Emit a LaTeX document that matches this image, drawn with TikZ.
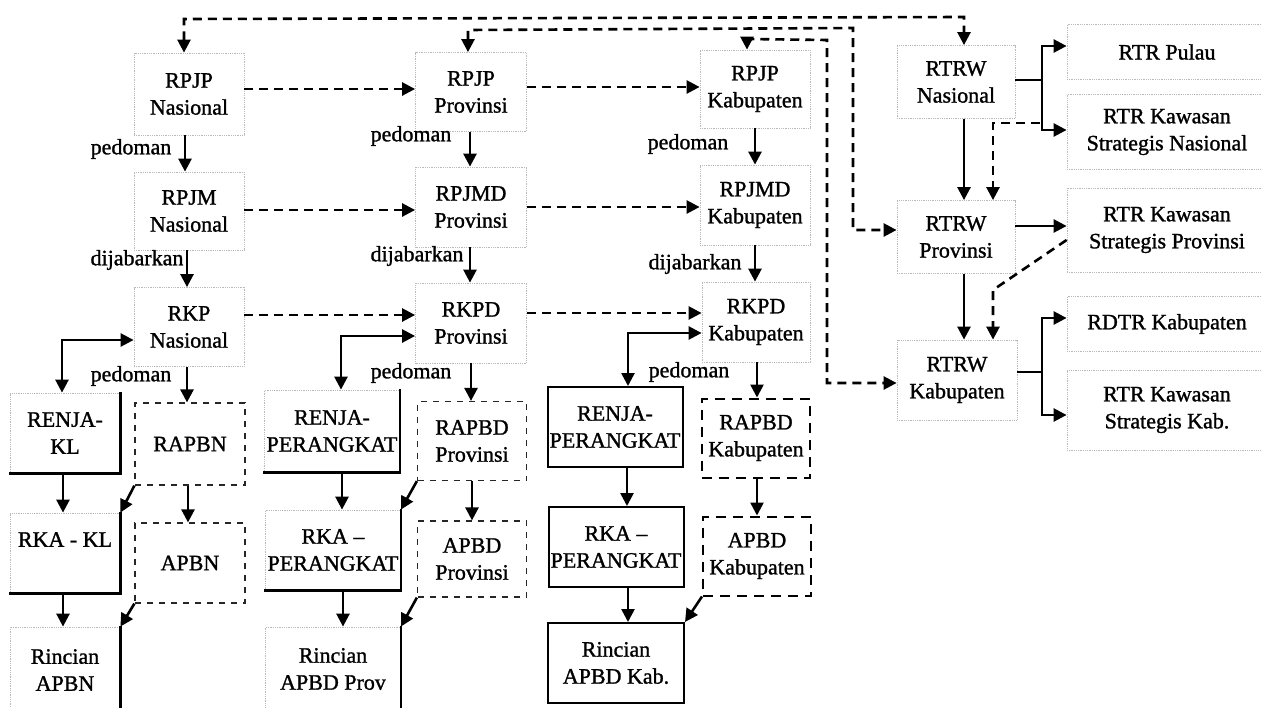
\documentclass[tikz,border=0pt]{standalone}
\usepackage{fontspec}
\setmainfont{Liberation Serif}[FakeBold=1.2]
\usetikzlibrary{arrows.meta,calc}
\begin{document}
\begin{tikzpicture}[x=1pt,y=-1pt,
  every node/.style={font=\fontsize{22}{27}\selectfont, align=center, inner sep=0pt},
  sz/.style 2 args={minimum width=#1pt, minimum height=#2pt},
  gbox/.style={draw=gray!55, densely dotted, line width=0.8pt},
  dbox/.style={draw=black!85, dash pattern=on 6pt off 6pt, line width=1.2pt},
  kdbox/.style={draw=black, dash pattern=on 10pt off 7pt, line width=2pt},
  kbox/.style={draw=black, line width=2pt},
  edgeline/.style={line width=2.2pt, line cap=rect},
  arr/.style={line width=2.6pt, -{Triangle[length=13pt,width=13pt]}},
  dblarr/.style={line width=2.6pt, {Triangle[length=13pt,width=13pt]}-{Triangle[length=13pt,width=13pt]}},
  darr/.style={arr, dash pattern=on 9pt off 6pt},
  ddbl/.style={dblarr, dash pattern=on 9pt off 6pt},
  lbl/.style={}
]
\useasboundingbox (0,0) rectangle (1261,707);
\clip (0,0) rectangle (1261,707);

% ---------- Column 1: Nasional ----------
\node[gbox, sz={110}{82}] (rpjpn) at (189,94) {RPJP\\Nasional};
\node[gbox, sz={110}{78}] (rpjmn) at (189,211) {RPJM\\Nasional};
\node[gbox, sz={110}{79}] (rkpn) at (189,327) {RKP\\Nasional};
\node[gbox, sz={110}{80}] (renjakl) at (65,433) {RENJA-\\KL};
\node[dbox, sz={110}{82}] (rapbn) at (190,444) {RAPBN};
\node[gbox, sz={110}{80}] (rkakl) at (65,553) {RKA - KL\\\mbox{}};
\node[dbox, sz={110}{80}] (apbn) at (190,563) {APBN};
\node[gbox, sz={110}{86}] (rincianapbn) at (65,670) {Rincian\\APBN};

% ---------- Column 2: Provinsi ----------
\node[gbox, sz={111}{79}] (rpjpp) at (471,92) {RPJP\\Provinsi};
\node[gbox, sz={111}{80}] (rpjmdp) at (471,207) {RPJMD\\Provinsi};
\node[gbox, sz={111}{80}] (rkpdp) at (471,323) {RKPD\\Provinsi};
\node[gbox, sz={135}{82}] (renjap) at (332,431) {RENJA-\\PERANGKAT};
\node[dbox, sz={109}{79}] (rapbdp) at (472,441) {RAPBD\\Provinsi};
\node[gbox, sz={135}{80}] (rkap) at (333,550) {RKA --\\PERANGKAT};
\node[dbox, sz={109}{76}] (apbdp) at (472,559) {APBD\\Provinsi};
\node[gbox, sz={135}{84}] (rincianprov) at (333,669) {Rincian\\APBD Prov};

% ---------- Column 3: Kabupaten ----------
\node[gbox, sz={110}{78}] (rpjpk) at (755,89) {RPJP\\Kabupaten};
\node[gbox, sz={110}{80}] (rpjmdk) at (755,205) {RPJMD\\Kabupaten};
\node[gbox, sz={108}{80}] (rkpdk) at (756,322) {RKPD\\Kabupaten};
\node[kbox, sz={135}{80}] (renjak) at (615,427) {RENJA-\\PERANGKAT};
\node[kdbox, sz={108}{79}] (rapbdk) at (756,438) {RAPBD\\Kabupaten};
\node[kbox, sz={135}{80}] (rkak) at (616,547) {RKA --\\PERANGKAT};
\node[kdbox, sz={108}{79}] (apbdk) at (757,556) {APBD\\Kabupaten};
\node[kbox, sz={136}{80}] (rinciank) at (616,663) {Rincian\\APBD Kab.};

% ---------- Column 4: RTRW ----------
\node[gbox, sz={118}{73}] (rtrwn) at (956,82) {RTRW\\Nasional};
\node[gbox, sz={118}{73}] (rtrwp) at (956,237) {RTRW\\Provinsi};
\node[gbox, sz={120}{80}] (rtrwk) at (957,380) {RTRW\\Kabupaten};
\node[gbox, sz={200}{55}] (rtrpulau) at (1167,52) {RTR Pulau};
\node[gbox, sz={200}{75}] (rtrksn) at (1167,132) {RTR Kawasan\\Strategis Nasional};
\node[gbox, sz={200}{84}] (rtrksp) at (1167,230) {RTR Kawasan\\Strategis Provinsi};
\node[gbox, sz={200}{55}] (rdtr) at (1167,324) {RDTR Kabupaten};
\node[gbox, sz={200}{80}] (rtrksk) at (1167,410) {RTR Kawasan\\Strategis Kab.};

% heavy right/bottom edges of the solid boxes
\foreach \n in {renjakl,rkakl,rincianapbn,renjap,rkap,rincianprov}
  \draw[edgeline] (\n.north east) -- (\n.south east) -- (\n.south west);

% ---------- labels ----------
\node[lbl] (l1) at (131,149) {pedoman};
\node[lbl] (l2) at (137,260) {dijabarkan};
\node[lbl] (l3) at (131,376) {pedoman};
\node[lbl] (l4) at (411,136) {pedoman};
\node[lbl] (l5) at (417,256) {dijabarkan};
\node[lbl] (l6) at (411,373) {pedoman};
\node[lbl] (l7) at (688,144) {pedoman};
\node[lbl] (l8) at (695,264) {dijabarkan};
\node[lbl] (l9) at (689,372) {pedoman};

% ---------- vertical arrows ----------
\draw[arr] (rpjpn.south -| 185,0) -- (rpjmn.north -| 185,0);
\draw[arr] (rpjmn.south -| 187,0) -- (rkpn.north -| 187,0);
\draw[arr] (rkpn.south -| 187,0) -- (rapbn.north -| 187,0);
\draw[arr] (renjakl.south -| 63,0) -- (rkakl.north -| 63,0);
\draw[arr] (rapbn.south -| 188,0) -- (apbn.north -| 188,0);
\draw[arr] (rkakl.south -| 63,0) -- (rincianapbn.north -| 63,0);

\draw[arr] (rpjpp.south -| 470,0) -- (rpjmdp.north -| 470,0);
\draw[arr] (rpjmdp.south -| 470,0) -- (rkpdp.north -| 470,0);
\draw[arr] (rkpdp.south -| 471,0) -- (rapbdp.north -| 471,0);
\draw[arr] (renjap.south -| 342,0) -- (rkap.north -| 342,0);
\draw[arr] (rapbdp.south -| 472,0) -- (apbdp.north -| 472,0);
\draw[arr] (rkap.south -| 343,0) -- (rincianprov.north -| 343,0);

\draw[arr] (rpjpk.south -| 755,0) -- (rpjmdk.north -| 755,0);
\draw[arr] (rpjmdk.south -| 755,0) -- (rkpdk.north -| 755,0);
\draw[arr] (rkpdk.south -| 757,0) -- (rapbdk.north -| 757,0);
\draw[arr] (renjak.south -| 627,0) -- (rkak.north -| 627,0);
\draw[arr] (rapbdk.south -| 757,0) -- (apbdk.north -| 757,0);
\draw[arr] (rkak.south -| 628,0) -- (rinciank.north -| 628,0);

\draw[arr] (rtrwn.south -| 964,0) -- (rtrwp.north -| 964,0);
\draw[arr] (rtrwp.south -| 964,0) -- (rtrwk.north -| 964,0);

% ---------- diagonal arrows ----------
\draw[arr] (rapbn.south west) -- (rkakl.north east);
\draw[arr] (apbn.south west) -- (rincianapbn.north east);
\draw[arr] (rapbdp.south west) -- (rkap.north east);
\draw[arr] (apbdp.south west) -- (rincianprov.north east);
\draw[arr] (apbdk.south west) -- (rinciank.north east);

% ---------- RENJA double arrows ----------
\draw[dblarr] (renjakl.north -| 62,0) |- (rkpn.west |- 0,340);
\draw[dblarr] (renjap.north -| 341,0) |- (rkpdp.west |- 0,336);
\draw[dblarr] (renjak.north -| 628,0) |- (rkpdk.west |- 0,333);

% ---------- horizontal dashed arrows ----------
\draw[darr] (rpjpn.east |- 0,89) -- (rpjpp.west |- 0,89);
\draw[darr] (rpjmn.east |- 0,210) -- (rpjmdp.west |- 0,210);
\draw[darr] (rkpn.east |- 0,315) -- (rkpdp.west |- 0,315);
\draw[darr] (rpjpp.east |- 0,87) -- (rpjpk.west |- 0,87);
\draw[darr] (rpjmdp.east |- 0,207) -- (rpjmdk.west |- 0,207);
\draw[darr] (rkpdp.east |- 0,313) -- (rkpdk.west |- 0,313);

% ---------- long dashed connectors ----------
\coordinate (t1) at (184,19);
\coordinate (t2) at (964,17);
\draw[ddbl] (t1 |- rpjpn.north) -- (t1) -- (t2) -- (t2 |- rtrwn.north);
\coordinate (t3) at (468,30);
\coordinate (t4) at (853,28);
\coordinate (t5) at (853,230);
\draw[ddbl] (t3 |- rpjpp.north) -- (t3) -- (t4) -- (t5) -- (rtrwp.west |- t5);
\coordinate (t6) at (747,39);
\coordinate (t7) at (827,40);
\coordinate (t8) at (827,383);
\draw[ddbl] (t6 |- rpjpk.north) -- (t6) -- (t7) -- (t8) -- (rtrwk.west |- t8);

% ---------- RTR branches ----------
\coordinate (b1) at (1042,80);
\draw[arr] (rtrwn.east |- b1) -- (b1) |- (rtrpulau.west |- 0,46);
\draw[arr] (b1) |- (rtrksn.west |- 0,130);
\draw[arr] (rtrwp.east |- 0,226) -- (rtrksp.west |- 0,226);
\coordinate (b2) at (1042,372);
\draw[arr] (rtrwk.east |- b2) -- (b2) |- (rdtr.west |- 0,318);
\draw[arr] (b2) |- (rtrksk.west |- 0,415);
\coordinate (b3) at (1040,123);
\draw[darr] (b3) -| (rtrwp.north -| 993,0);
\coordinate (b4) at (993,290);
\draw[darr] (rtrksp.west |- 0,240) -- (b4) -- (rtrwk.north -| 993,0);
\end{tikzpicture}
\end{document}
